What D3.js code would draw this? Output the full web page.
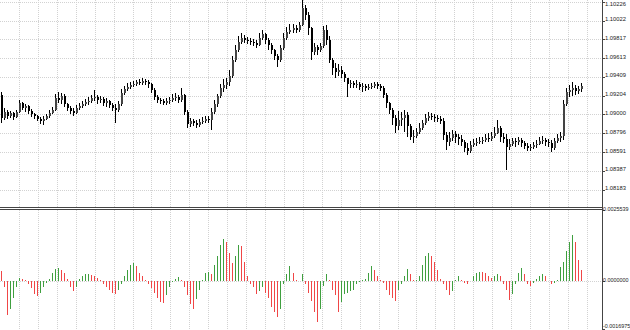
<!DOCTYPE html>
<html>
<head>
<meta charset="utf-8">
<script src="https://cdn.jsdelivr.net/npm/d3@7"></script>
<style>
  html, body { margin: 0; padding: 0; background: #fff; }
  svg { display: block; }
</style>
</head>
<body>
<svg id="chart" width="630" height="330"></svg>
<script>
// [open, high, low, close]
const ohlc = [
  [1.09212,1.09244,1.08907,1.08961],[1.08961,1.09070,1.08939,1.09027],[1.09027,1.09048,1.08950,1.08983],
  [1.08983,1.09037,1.08961,1.09016],[1.09016,1.09027,1.08939,1.08972],[1.08972,1.09048,1.08961,1.09027],
  [1.09027,1.09157,1.09016,1.09124],[1.09124,1.09135,1.09048,1.09070],[1.09070,1.09114,1.09027,1.09092],
  [1.09092,1.09103,1.09005,1.09037],[1.09037,1.09059,1.08972,1.09005],[1.09005,1.09016,1.08950,1.08983],
  [1.08983,1.08994,1.08929,1.08950],[1.08950,1.08972,1.08896,1.08929],[1.08929,1.08983,1.08885,1.08950],
  [1.08950,1.09005,1.08939,1.08983],[1.08983,1.09048,1.08961,1.09016],[1.09016,1.09081,1.09005,1.09048],
  [1.09048,1.09222,1.09037,1.09179],[1.09179,1.09244,1.09124,1.09157],[1.09157,1.09233,1.09114,1.09201],
  [1.09201,1.09222,1.09081,1.09114],[1.09114,1.09124,1.09037,1.09070],[1.09070,1.09092,1.09005,1.09037],
  [1.09037,1.09070,1.08983,1.09016],[1.09016,1.09103,1.09005,1.09070],[1.09070,1.09124,1.09048,1.09092],
  [1.09092,1.09146,1.09070,1.09114],[1.09114,1.09168,1.09092,1.09135],[1.09135,1.09190,1.09103,1.09146],
  [1.09146,1.09212,1.09124,1.09179],[1.09179,1.09266,1.09146,1.09190],[1.09190,1.09212,1.09114,1.09157],
  [1.09157,1.09201,1.09124,1.09168],[1.09168,1.09190,1.09092,1.09124],[1.09124,1.09179,1.09081,1.09146],
  [1.09146,1.09157,1.09070,1.09103],[1.09103,1.09124,1.09037,1.09070],[1.09070,1.09114,1.08907,1.09048],
  [1.09048,1.09146,1.09027,1.09114],[1.09114,1.09277,1.09092,1.09233],[1.09233,1.09309,1.09212,1.09277],
  [1.09277,1.09342,1.09255,1.09299],[1.09299,1.09353,1.09277,1.09320],[1.09320,1.09364,1.09299,1.09331],
  [1.09331,1.09375,1.09309,1.09353],[1.09353,1.09386,1.09320,1.09342],[1.09342,1.09396,1.09320,1.09364],
  [1.09364,1.09386,1.09320,1.09353],[1.09353,1.09375,1.09288,1.09331],[1.09331,1.09342,1.09233,1.09266],
  [1.09266,1.09288,1.09157,1.09190],[1.09190,1.09212,1.09124,1.09157],[1.09157,1.09179,1.09114,1.09146],
  [1.09146,1.09168,1.09103,1.09124],[1.09124,1.09179,1.09103,1.09146],[1.09146,1.09190,1.09114,1.09157],
  [1.09157,1.09222,1.09135,1.09179],[1.09179,1.09233,1.09146,1.09190],[1.09190,1.09212,1.09124,1.09157],
  [1.09157,1.09288,1.09135,1.09212],[1.09212,1.09222,1.08994,1.09027],[1.09027,1.09048,1.08852,1.08896],
  [1.08896,1.08961,1.08863,1.08929],[1.08929,1.08950,1.08874,1.08907],[1.08907,1.08939,1.08852,1.08885],
  [1.08885,1.08950,1.08863,1.08918],[1.08918,1.08972,1.08896,1.08929],[1.08929,1.08983,1.08907,1.08950],
  [1.08950,1.08983,1.08907,1.08939],[1.08939,1.09070,1.08831,1.09027],[1.09027,1.09157,1.09005,1.09114],
  [1.09114,1.09222,1.09081,1.09201],[1.09201,1.09331,1.09179,1.09288],[1.09288,1.09386,1.09244,1.09320],
  [1.09320,1.09396,1.09277,1.09353],[1.09353,1.09483,1.09309,1.09418],[1.09418,1.09636,1.09396,1.09592],
  [1.09592,1.09755,1.09570,1.09701],[1.09701,1.09853,1.09679,1.09788],[1.09788,1.09886,1.09766,1.09832],
  [1.09832,1.09864,1.09777,1.09810],[1.09810,1.09842,1.09766,1.09799],[1.09799,1.09832,1.09755,1.09788],
  [1.09788,1.09821,1.09745,1.09777],[1.09777,1.09810,1.09723,1.09755],[1.09755,1.09886,1.09745,1.09832],
  [1.09832,1.09919,1.09810,1.09875],[1.09875,1.09886,1.09766,1.09810],[1.09810,1.09832,1.09701,1.09755],
  [1.09755,1.09777,1.09658,1.09701],[1.09701,1.09712,1.09592,1.09636],[1.09636,1.09658,1.09516,1.09592],
  [1.09592,1.09755,1.09570,1.09723],[1.09723,1.09886,1.09701,1.09832],[1.09832,1.09951,1.09810,1.09897],
  [1.09897,1.09984,1.09875,1.09919],[1.09919,1.09984,1.09886,1.09940],[1.09940,1.09973,1.09886,1.09919],
  [1.09919,1.10006,1.09897,1.09973],[1.09973,1.10245,1.09962,1.10158],[1.10158,1.10191,1.10027,1.10082],
  [1.10082,1.10114,1.09864,1.09940],[1.09940,1.09951,1.09592,1.09679],[1.09679,1.09777,1.09647,1.09734],
  [1.09734,1.09755,1.09647,1.09701],[1.09701,1.09777,1.09679,1.09745],[1.09745,1.09962,1.09723,1.09919],
  [1.09919,1.09973,1.09755,1.09810],[1.09810,1.09853,1.09560,1.09592],[1.09592,1.09614,1.09429,1.09505],
  [1.09505,1.09560,1.09396,1.09462],[1.09462,1.09549,1.09418,1.09483],[1.09483,1.09527,1.09396,1.09440],
  [1.09440,1.09462,1.09353,1.09396],[1.09396,1.09396,1.09190,1.09331],[1.09331,1.09375,1.09288,1.09342],
  [1.09342,1.09364,1.09288,1.09320],[1.09320,1.09375,1.09288,1.09331],[1.09331,1.09353,1.09266,1.09299],
  [1.09299,1.09342,1.09244,1.09309],[1.09309,1.09331,1.09255,1.09288],[1.09288,1.09331,1.09266,1.09299],
  [1.09299,1.09342,1.09277,1.09309],[1.09309,1.09353,1.09288,1.09331],[1.09331,1.09353,1.09277,1.09309],
  [1.09309,1.09331,1.09255,1.09288],[1.09288,1.09309,1.09179,1.09212],[1.09212,1.09233,1.09070,1.09124],
  [1.09124,1.09135,1.09005,1.09048],[1.09048,1.09070,1.08885,1.08961],[1.08961,1.08994,1.08798,1.08874],
  [1.08874,1.09037,1.08831,1.08939],[1.08939,1.09027,1.08874,1.08961],[1.08961,1.09048,1.08809,1.08994],
  [1.08994,1.09027,1.08755,1.08874],[1.08874,1.08896,1.08722,1.08755],[1.08755,1.08831,1.08689,1.08765],
  [1.08765,1.08852,1.08744,1.08809],[1.08809,1.08907,1.08787,1.08852],[1.08852,1.08939,1.08831,1.08907],
  [1.08907,1.09005,1.08885,1.08961],[1.08961,1.09027,1.08929,1.08983],[1.08983,1.09016,1.08939,1.08972],
  [1.08972,1.09005,1.08918,1.08961],[1.08961,1.08994,1.08918,1.08950],[1.08950,1.08983,1.08896,1.08929],
  [1.08929,1.08961,1.08722,1.08776],[1.08776,1.08809,1.08613,1.08700],[1.08700,1.08809,1.08657,1.08744],
  [1.08744,1.08831,1.08711,1.08787],[1.08787,1.08820,1.08689,1.08755],[1.08755,1.08787,1.08668,1.08733],
  [1.08733,1.08776,1.08657,1.08700],[1.08700,1.08722,1.08591,1.08635],[1.08635,1.08689,1.08559,1.08602],
  [1.08602,1.08711,1.08581,1.08668],[1.08668,1.08733,1.08646,1.08689],[1.08689,1.08744,1.08657,1.08700],
  [1.08700,1.08755,1.08678,1.08711],[1.08711,1.08755,1.08678,1.08722],[1.08722,1.08787,1.08700,1.08744],
  [1.08744,1.08798,1.08700,1.08733],[1.08733,1.08809,1.08711,1.08765],[1.08765,1.08863,1.08744,1.08798],
  [1.08798,1.08939,1.08787,1.08852],[1.08852,1.08874,1.08700,1.08755],[1.08755,1.08798,1.08689,1.08733],
  [1.08733,1.08787,1.08395,1.08646],[1.08646,1.08733,1.08613,1.08678],[1.08678,1.08744,1.08657,1.08711],
  [1.08711,1.08744,1.08646,1.08700],[1.08700,1.08755,1.08668,1.08722],[1.08722,1.08744,1.08646,1.08689],
  [1.08689,1.08711,1.08624,1.08657],[1.08657,1.08689,1.08602,1.08635],[1.08635,1.08678,1.08602,1.08646],
  [1.08646,1.08700,1.08624,1.08668],[1.08668,1.08722,1.08635,1.08678],[1.08678,1.08755,1.08668,1.08711],
  [1.08711,1.08765,1.08678,1.08722],[1.08722,1.08744,1.08657,1.08700],[1.08700,1.08733,1.08646,1.08689],
  [1.08689,1.08722,1.08591,1.08635],[1.08635,1.08744,1.08613,1.08711],[1.08711,1.08787,1.08689,1.08744],
  [1.08744,1.08809,1.08700,1.08765],[1.08765,1.09157,1.08722,1.09114],[1.09114,1.09288,1.09092,1.09244],
  [1.09244,1.09320,1.09190,1.09266],[1.09266,1.09353,1.09201,1.09288],[1.09288,1.09320,1.09212,1.09255],
  [1.09255,1.09309,1.09222,1.09277],[1.09277,1.09342,1.09244,1.09309]
];

const acValues = [
  0.00037, -0.0002, -0.0012, -0.001, -0.0006, -0.0002, 0.00013, 0.0001, 0.00005, -0.0001,
  -0.00025, -0.00045, -0.00052, -0.0004, -0.0002, -0.00005, 0.0001, 0.0003, 0.00045, 0.00048,
  0.0004, 0.0003, 0.0001, -0.0002, -0.00035, -0.0002, 0.0001, 0.0002, 0.00025, 0.00027,
  0.00022, 0.00018, 0.00012, 0.00005, -0.0001, -0.0002, -0.0003, -0.0004, -0.00046, -0.0003,
  -0.0001, 0.0002, 0.0004, 0.0006, 0.00066, 0.00055, 0.0003, 0.0002, 0.00007, -0.0001,
  -0.00025, -0.0004, -0.0006, -0.00072, -0.00076, -0.0005, -0.0002, -0.00003, 0.0001, 0.00015,
  0.00005, -0.0002, -0.0005, -0.0008, -0.001, -0.00064, -0.0003, 0.00005, 0.0003, 0.00035,
  0.00025, 0.0006, 0.0009, 0.0013, 0.0015, 0.0014, 0.001, 0.00065, 0.0009, 0.0013,
  0.00125, 0.0007, 0.0002, -0.0001, -0.0002, -0.00045, -0.00035, -0.0002, -0.0004, -0.0006,
  -0.0009, -0.0011, -0.00128, -0.001, -0.0001, 0.00025, 0.00055, 0.0003, 0.00007, 0.00002,
  0.00025, -0.0001, -0.0004, -0.0007, -0.0011, -0.00146, -0.001, -0.00017, 0.00025, 0.00007,
  -0.0003, -0.0005, -0.0011, -0.00075, -0.00045, -0.0004, -0.00035, -0.0003, -0.0001, -0.00003,
  0.00007, 0.0001, 0.0003, 0.00055, 0.0004, 0.0002, 0.00005, -0.00005, -0.0003, -0.0005,
  -0.0006, -0.0007, -0.0003, -0.0001, 0.0002, 0.00045, 0.00025, 0.00005, 0.00007, 0.0002,
  0.0006, 0.0009, 0.001, 0.0009, 0.0007, 0.0004, 0.0001, -0.0001, -0.0003, -0.0005,
  -0.00035, 0.00005, 0.0002, 0.00005, -0.00005, -0.0001, 0.00003, 0.0002, 0.0003, 0.00035,
  0.00033, 0.0003, 0.0002, 0.00012, 0.0002, 0.00025, 0.0002, -0.0001, -0.0003, -0.00065,
  -0.00045, -0.0001, 0.0003, 0.00048, 0.00025, -0.0001, -0.00015, -0.00005, 0.0001, 0.00018,
  0.00025, 0.0002, 0, -0.0001, -0.00005, 0.00007, 0.0005, 0.0007, 0.0011, 0.0014,
  0.00165, 0.0014, 0.00078, 0.0004
];

const priceTicks = [1.10226, 1.10022, 1.09817, 1.09613, 1.09409, 1.09204, 1.09000, 1.08796, 1.08591, 1.08387, 1.08183];
const acTicks = [0.0025539, 0.0000000, -0.0016975];

const W = 630, H = 330;
const AXIS_X = 602;
const MAIN_BOTTOM = 207;
const SUB_TOP = 210;
const GRID_STEP = 18.93;

const svg = d3.select("#chart");

const x = d3.scaleLinear().domain([0, ohlc.length - 1]).range([1, 581]);
const yMain = d3.scaleLinear().domain([1.08183, 1.10022]).range([189.5, 20.5]);
const ySub = d3.scaleLinear().domain([acTicks[2], acTicks[0]]).range([329, 210]);

const px = (i) => Math.round(x(i));

const gridX = d3.range(1, 32).map((k) => Math.round(k * GRID_STEP) + 0.5).filter((v) => v < AXIS_X);

// grid
const gGrid = svg.append("g")
  .attr("stroke", "#d2d2d2")
  .attr("stroke-width", 1)
  .attr("stroke-dasharray", "1,1")
  .attr("shape-rendering", "crispEdges");

gGrid.selectAll("line.vm").data(gridX).join("line")
  .attr("class", "vm")
  .attr("x1", (d) => d).attr("x2", (d) => d)
  .attr("y1", 0).attr("y2", MAIN_BOTTOM);

gGrid.selectAll("line.vs").data(gridX).join("line")
  .attr("class", "vs")
  .attr("x1", (d) => d).attr("x2", (d) => d)
  .attr("y1", SUB_TOP).attr("y2", H);

gGrid.selectAll("line.h").data(priceTicks).join("line")
  .attr("class", "h")
  .attr("x1", 0).attr("x2", AXIS_X)
  .attr("y1", (d) => Math.round(yMain(d)) + 0.5)
  .attr("y2", (d) => Math.round(yMain(d)) + 0.5);

gGrid.append("line")
  .attr("x1", 0).attr("x2", AXIS_X)
  .attr("y1", Math.round(ySub(0)) + 0.5)
  .attr("y2", Math.round(ySub(0)) + 0.5);

// candles
const gCandles = svg.append("g").attr("shape-rendering", "crispEdges");

gCandles.selectAll("line").data(ohlc).join("line")
  .attr("x1", (d, i) => px(i) + 0.5).attr("x2", (d, i) => px(i) + 0.5)
  .attr("y1", (d) => yMain(d[1]))
  .attr("y2", (d) => yMain(d[2]))
  .attr("stroke", "#000")
  .attr("stroke-width", 1);

gCandles.selectAll("rect").data(ohlc).join("rect")
  .attr("x", (d, i) => px(i))
  .attr("width", 2)
  .attr("y", (d) => yMain(Math.max(d[0], d[3])))
  .attr("height", (d) => Math.max(1, Math.abs(yMain(d[0]) - yMain(d[3]))))
  .attr("fill", (d) => (d[3] >= d[0] ? "#444" : "#000"));

// accelerator histogram
const z = ySub(0);
svg.append("g")
  .attr("shape-rendering", "crispEdges")
  .selectAll("line").data(acValues).join("line")
  .attr("x1", (d, i) => px(i) + 0.5).attr("x2", (d, i) => px(i) + 0.5)
  .attr("y1", z)
  .attr("y2", (d) => ySub(d))
  .attr("stroke", (d, i) => (i > 0 && d > acValues[i - 1] ? "#3f9f3f" : "#f04646"))
  .attr("stroke-width", 1);

// frame
const gFrame = svg.append("g")
  .attr("stroke", "#444")
  .attr("stroke-width", 1)
  .attr("shape-rendering", "crispEdges");

gFrame.append("line").attr("x1", AXIS_X + 0.5).attr("x2", AXIS_X + 0.5).attr("y1", 0).attr("y2", H);
gFrame.append("line").attr("x1", 0).attr("x2", AXIS_X).attr("y1", MAIN_BOTTOM + 0.5).attr("y2", MAIN_BOTTOM + 0.5);
gFrame.append("line").attr("x1", 0).attr("x2", AXIS_X).attr("y1", SUB_TOP - 0.5).attr("y2", SUB_TOP - 0.5);

// price scale
const gAxis = svg.append("g");

gAxis.selectAll("line.tm").data(priceTicks).join("line")
  .attr("class", "tm")
  .attr("x1", AXIS_X).attr("x2", AXIS_X + 3)
  .attr("y1", (d) => Math.round(yMain(d)) + 0.5)
  .attr("y2", (d) => Math.round(yMain(d)) + 0.5)
  .attr("stroke", "#444")
  .attr("shape-rendering", "crispEdges");

gAxis.selectAll("text.tm").data(priceTicks).join("text")
  .attr("class", "tm")
  .attr("x", AXIS_X + 3)
  .attr("y", (d) => Math.max(3.5, yMain(d) - 1.5))
  .attr("dominant-baseline", "central")
  .attr("font-family", "Liberation Sans, Arial, sans-serif")
  .attr("font-size", 5.8)
  .attr("fill", "#222")
  .text((d) => d.toFixed(5));

gAxis.selectAll("line.ts").data(acTicks).join("line")
  .attr("class", "ts")
  .attr("x1", AXIS_X).attr("x2", AXIS_X + 3)
  .attr("y1", (d) => Math.round(ySub(d)) + 0.5)
  .attr("y2", (d) => Math.round(ySub(d)) + 0.5)
  .attr("stroke", "#444")
  .attr("shape-rendering", "crispEdges");

gAxis.selectAll("text.ts").data(acTicks).join("text")
  .attr("class", "ts")
  .attr("x", AXIS_X + 1)
  .attr("y", (d) => Math.min(326, ySub(d) - 1))
  .attr("dominant-baseline", "central")
  .attr("font-family", "Liberation Sans, Arial, sans-serif")
  .attr("font-size", 5.4)
  .attr("fill", "#222")
  .text((d) => d.toFixed(7));
</script>
</body>
</html>
